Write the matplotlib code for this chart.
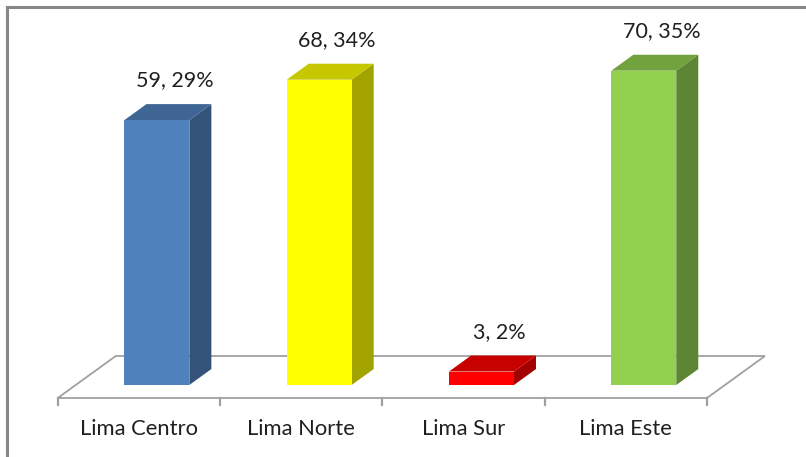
import numpy as np
import matplotlib.pyplot as plt
from matplotlib.patches import Polygon
from matplotlib.lines import Line2D
from matplotlib.colors import to_rgb

#---------------------------------------------------------------------#
categorias = ["Lima Centro", "Lima Norte", "Lima Sur", "Lima Este"]
valores = [59, 68, 3, 70]
porcentajes = [29, 34, 2, 35]
colores = ["#4F81BD", "#FFFF00", "#FF0000", "#92D050"]
#---------------------------------------------------------------------#

# geometria del efecto 3D (en unidades de datos)
PROF_X = 0.357        # desplazamiento x de la profundidad total del piso
PROF_Y = 9.35         # desplazamiento y de la profundidad total del piso
D0, D1 = 0.31, 0.69   # profundidad cara frontal / trasera de la barra
ANCHO = 0.40
GRIS = "#A0A0A0"
TEXTO = "#202020"

plt.rcParams['font.family'] = ['Lato', 'DejaVu Sans']


def proy(x, y, d):
    return (x + d * PROF_X, y + d * PROF_Y)


def sombra(color, f):
    r, g, b = to_rgb(color)
    return (r * f, g * f, b * f)


fig = plt.figure(figsize=(8.06, 4.57), dpi=100)
ax = fig.add_axes([0, 0, 1, 1])
ax.set_xlim(-0.856, 4.110)
ax.set_ylim(-13.14, 88.64)
ax.axis('off')

n = len(categorias)
xa, xb = -0.5, n - 0.5

# piso
piso = [proy(xa, 0, 0), proy(xb, 0, 0), proy(xb, 0, 1), proy(xa, 0, 1)]
ax.add_patch(Polygon(piso, closed=True, facecolor="white", edgecolor=GRIS, lw=1.3, zorder=1))

# marcas del eje
for k in range(n + 1):
    ax.plot([xa + k, xa + k], [0, -1.6], color=GRIS, lw=1.6, zorder=1)

# barras
for i, (v, c) in enumerate(zip(valores, colores)):
    x0, x1 = i - ANCHO / 2, i + ANCHO / 2
    frente = [proy(x0, 0, D0), proy(x1, 0, D0), proy(x1, v, D0), proy(x0, v, D0)]
    lado = [proy(x1, 0, D0), proy(x1, 0, D1), proy(x1, v, D1), proy(x1, v, D0)]
    tapa = [proy(x0, v, D0), proy(x1, v, D0), proy(x1, v, D1), proy(x0, v, D1)]
    ax.add_patch(Polygon(lado, closed=True, facecolor=sombra(c, 0.64), lw=0, zorder=2))
    ax.add_patch(Polygon(tapa, closed=True, facecolor=sombra(c, 0.78), lw=0, zorder=2))
    ax.add_patch(Polygon(frente, closed=True, facecolor=c, lw=0, zorder=3))

    ax.text(i + 0.22, v + D1 * PROF_Y + 5.3, f"{v}, {porcentajes[i]}%",
            ha="center", va="center", fontsize=15.5, color=TEXTO)
    ax.text(i, -6.8, categorias[i], ha="center", va="center", fontsize=15.8, color=TEXTO)

# borde del area del grafico
fig.add_artist(Line2D([7 / 806, 7 / 806], [0, 1 - 7 / 457], transform=fig.transFigure,
                      color="#888888", lw=2.2))
fig.add_artist(Line2D([7 / 806, 1], [1 - 7 / 457, 1 - 7 / 457], transform=fig.transFigure,
                      color="#888888", lw=2.2))

fig.savefig("out.png", dpi=100)
